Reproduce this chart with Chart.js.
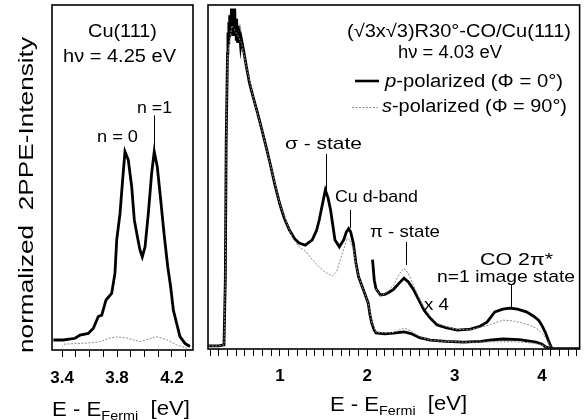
<!DOCTYPE html>
<html>
<head>
<meta charset="utf-8">
<script src="https://cdn.jsdelivr.net/npm/chart.js@4/dist/chart.umd.min.js"></script>
<style>
  body { margin: 0; background: #fff; }
  #wrap { position: relative; width: 587px; height: 420px; }
  canvas { position: absolute; top: 0; }
</style>
</head>
<body>
<div id="wrap">
  <canvas id="cuChart" width="200" height="420" style="left:0"></canvas>
  <canvas id="coChart" width="387" height="420" style="left:200px"></canvas>
</div>
<script>
// Cu(111), hv = 4.25 eV
const cuPE = [3.337, 3.41, 3.495, 3.531, 3.591, 3.628, 3.664, 3.689, 3.72, 3.761, 3.785, 3.798, 3.822, 3.841, 3.858, 3.882, 3.907, 3.926, 3.948, 3.967, 3.984, 4.004, 4.028, 4.052, 4.071, 4.093, 4.118, 4.142, 4.169, 4.19, 4.21, 4.234, 4.258, 4.295, 4.331];
const cuP = [2.9, 2.9, 3.4, 4.3, 4.8, 6.3, 9.7, 10.1, 14.5, 16.4, 22.2, 31.9, 39.6, 49.3, 57.5, 55.1, 47.3, 37.7, 32.9, 29.0, 27.0, 29.9, 39.6, 51.2, 57.5, 53.1, 43.5, 33.8, 24.2, 18.4, 11.6, 7.7, 3.9, 1.9, 1.0];
const cuSE = [3.414, 3.58, 3.677, 3.75, 3.798, 3.87, 3.967, 4.04, 4.085, 4.16, 4.234, 4.31];
const cuS = [1.7, 2.0, 2.4, 3.5, 3.8, 3.5, 2.4, 3.3, 3.9, 3.0, 1.5, 0.5];

// (sqrt3 x sqrt3)R30-CO/Cu(111), hv = 4.03 eV
const coPE = [0.18, 0.30, 0.36, 0.375, 0.385, 0.40, 0.405, 0.41, 0.415, 0.42, 0.425, 0.43, 0.435, 0.44, 0.445, 0.45, 0.455, 0.46, 0.465, 0.47, 0.475, 0.48, 0.485, 0.49, 0.495, 0.50, 0.505, 0.51, 0.515, 0.52, 0.525, 0.53, 0.54, 0.55, 0.56, 0.583, 0.617, 0.65, 0.696, 0.74, 0.786, 0.84, 0.887, 0.94, 1.0, 1.05, 1.11, 1.17, 1.22, 1.29, 1.37, 1.42, 1.45, 1.49, 1.52, 1.55, 1.58, 1.63, 1.68, 1.73, 1.76, 1.786, 1.81, 1.84, 1.87, 1.9, 1.955, 2.01, 2.03, 2.05, 2.08, 2.1, 2.2, 2.3, 2.42, 2.5, 2.6, 2.72, 2.9, 3.1, 3.3, 3.4, 3.55, 3.74, 3.93, 4.0, 4.04, 4.1, 4.43];
const coP = [0.9, 0.9, 1.2, 20, 60, 86, 92, 89, 95, 91, 97, 92, 96, 93, 99, 92, 97, 91, 98, 92, 96, 91, 99, 93, 95, 90, 96, 91, 94, 89, 93, 89, 91, 88, 90, 87, 82, 77.5, 73, 69, 64.5, 59, 54, 48, 42, 38, 34.5, 32, 30.8, 30.2, 31.7, 34.5, 37.5, 42.5, 46.2, 44, 40.4, 31.7, 29.7, 31.7, 34, 35, 34, 30.8, 25, 21, 17.2, 13.4, 10, 7.6, 5.4, 4.7, 4.4, 4.6, 5.0, 4.5, 3.3, 2.6, 2.2, 2.0, 2.2, 2.6, 2.9, 2.7, 2.0, 1.4, 0.6, 0.1, 0.1];
const coSE = [0.18, 0.30, 0.36, 0.375, 0.385, 0.40, 0.45, 0.50, 0.56, 0.617, 0.696, 0.786, 0.887, 1.0, 1.11, 1.15, 1.22, 1.29, 1.37, 1.45, 1.52, 1.6, 1.65, 1.69, 1.73, 1.77, 1.8, 1.84, 1.87, 1.9, 1.955, 2.01, 2.05, 2.1, 2.2, 2.3, 2.42, 2.5, 2.6, 2.72, 2.9, 3.1, 3.3, 3.5, 3.7, 3.9, 4.0, 4.05, 4.1, 4.43];
const coS = [0.9, 0.9, 1.2, 20, 60, 85, 94, 92, 89, 82, 73, 64.5, 54, 42, 34.5, 32, 29.7, 28.5, 26, 23.8, 22.3, 21.2, 22.5, 25.9, 29, 32.3, 31.5, 29.5, 24.5, 21, 17.2, 13.4, 7.8, 4.9, 4.7, 4.8, 6.1, 5.2, 3.6, 2.6, 2.2, 2.0, 2.0, 2.1, 2.1, 1.7, 1.2, 0.5, 0.1, 0.1];
// x 4 magnified traces
const co4E = [2.06, 2.08, 2.1, 2.15, 2.2, 2.25, 2.3, 2.36, 2.42, 2.47, 2.53, 2.59, 2.65, 2.72, 2.8, 2.9, 3.03, 3.18, 3.29, 3.37, 3.46, 3.55, 3.63, 3.72, 3.82, 3.9, 3.96, 4.0, 4.04, 4.08, 4.11];
const co4P = [26, 20, 17.5, 15.7, 15.9, 16.5, 17.3, 19, 20.6, 19.5, 17.2, 14.3, 11.3, 9, 7, 6.2, 5.5, 5.8, 6.6, 7.8, 10.8, 11.6, 11.9, 11.6, 10.8, 9.6, 8.4, 6.8, 4.7, 2, 0.3];
const co4SE = [2.1, 2.15, 2.2, 2.3, 2.36, 2.42, 2.47, 2.53, 2.6, 2.65, 2.72, 2.8, 2.9, 3.03, 3.18, 3.3, 3.4, 3.55, 3.65, 3.74, 3.85, 3.93, 4.02, 4.07, 4.11];
const co4S = [17.5, 15.5, 16, 18.5, 21.5, 23.5, 22, 18.5, 14.5, 12, 9.5, 7.5, 6.5, 5.7, 5.7, 6.3, 7.0, 8.4, 8.2, 7.8, 7, 6.1, 4.1, 2, 0.3];

const cuTicks = [3.4, 3.5, 3.6, 3.7, 3.8, 3.9, 4.0, 4.1, 4.2, 4.3];
const cuTickLabels = ['3.4', '3.8', '4.2'];
const coTicks = [];
for (let i = 2; i <= 44; i++) coTicks.push(i / 10);
const coTickLabels = ['1', '2', '3', '4'];

const FONT = "'Liberation Sans', Arial, sans-serif";

function pts(xs, ys) {
  return xs.map((x, i) => ({ x: x, y: ys[i] }));
}

function pLine(xs, ys) {
  return { data: pts(xs, ys), borderColor: '#000', borderWidth: 2.8, pointRadius: 0, tension: 0 };
}
function sLine(xs, ys) {
  return { data: pts(xs, ys), borderColor: '#8a8a8a', borderWidth: 1, borderDash: [2, 1.5], pointRadius: 0, tension: 0 };
}

// text squeezed/stretched to the width it has in the picture
function fitText(ctx, parts, x0, x1, y) {
  let w = 0;
  parts.forEach(p => { ctx.font = p.font; w += ctx.measureText(p.t).width; });
  const k = (x1 - x0) / w;
  ctx.save();
  ctx.translate(x0, y);
  ctx.scale(k, 1);
  ctx.textBaseline = 'middle';
  ctx.textAlign = 'left';
  ctx.fillStyle = '#000';
  let x = 0;
  parts.forEach(p => {
    ctx.font = p.font;
    ctx.fillText(p.t, x, p.dy || 0);
    x += ctx.measureText(p.t).width;
  });
  ctx.restore();
}
function txt(ctx, t, x0, x1, y, size) {
  fitText(ctx, [{ t: t, font: size + 'px ' + FONT }], x0, x1, y);
}
function xTitle(ctx, x0, x1, y) {
  fitText(ctx, [
    { t: 'E - E', font: '20px ' + FONT },
    { t: 'Fermi', font: '13px ' + FONT, dy: 6 },
    { t: '  [eV]', font: '20px ' + FONT, dy: -1 },
  ], x0, x1, y);
}
function leader(ctx, chart, e, y0, y1) {
  const xs = chart.scales.x, ys = chart.scales.y;
  const px = Math.round(xs.getPixelForValue(e)) + 0.5;
  ctx.save();
  ctx.strokeStyle = '#000';
  ctx.lineWidth = 1;
  ctx.beginPath();
  ctx.moveTo(px, ys.getPixelForValue(y0));
  ctx.lineTo(px, ys.getPixelForValue(y1));
  ctx.stroke();
  ctx.restore();
}
function frame(ctx, a) {
  ctx.save();
  ctx.strokeStyle = '#000';
  ctx.lineWidth = 1.6;
  ctx.strokeRect(a.left, a.top, a.right - a.left, a.bottom - a.top);
  ctx.restore();
}

function makeChart(id, datasets, xmin, xmax, ticks, labels, pad, axisH, labelPad, deco) {
  return new Chart(document.getElementById(id), {
    type: 'line',
    data: { datasets: datasets },
    options: {
      responsive: false,
      animation: false,
      devicePixelRatio: 1,
      layout: { padding: pad },
      plugins: { legend: { display: false }, tooltip: { enabled: false } },
      scales: {
        x: {
          type: 'linear', min: xmin, max: xmax,
          afterBuildTicks: s => { s.ticks = ticks.map(v => ({ value: v })); },
          afterFit: s => { s.height = axisH; },
          border: { display: false },
          grid: { drawOnChartArea: false, drawTicks: true, tickLength: 7, color: '#000', lineWidth: 1 },
          ticks: {
            autoSkip: false, maxRotation: 0, padding: labelPad, color: '#000',
            font: { family: FONT, size: 17, weight: 'bold' },
            callback: v => {
              const s = String(Math.round(v * 10) / 10);
              return labels.includes(s) ? s : '';
            },
          },
        },
        y: { display: false, min: 0, max: 100 },
      },
    },
    plugins: [{ id: 'deco', afterDraw: chart => { frame(chart.ctx, chart.chartArea); deco(chart.ctx, chart); } }],
  });
}

makeChart('cuChart', [sLine(cuSE, cuS), pLine(cuPE, cuP)], 3.327, 4.353, cuTicks, cuTickLabels,
  { left: 52, right: 7, top: 5, bottom: 0 }, 70, 11, (ctx, chart) => {
    txt(ctx, 'Cu(111)', 88, 157, 32, 18);
    txt(ctx, 'hν = 4.25 eV', 63, 176, 57, 18);
    txt(ctx, 'n = 0', 97, 138, 137, 17);
    txt(ctx, 'n =1', 137, 172, 108, 17);
    leader(ctx, chart, 4.069, 68, 58);
    xTitle(ctx, 52, 190, 410);
    ctx.save();
    ctx.translate(27, 353);
    ctx.rotate(-Math.PI / 2);
    txt(ctx, 'normalized  2PPE-Intensity', 0, 316, 0, 21);
    ctx.restore();
  });

makeChart('coChart', [sLine(coSE, coS), pLine(coPE, coP), sLine(co4SE, co4S), pLine(co4E, co4P)], 0.177, 4.43, coTicks, coTickLabels,
  { left: 4, right: 6, top: 5, bottom: 0 }, 71, 10, (ctx, chart) => {
    txt(ctx, '(√3x√3)R30°-CO/Cu(111)', 147, 371, 32, 18);
    txt(ctx, 'hν = 4.03 eV', 198, 302, 53, 18);
    fitText(ctx, [{ t: 'p', font: 'italic 18px ' + FONT }, { t: '-polarized (Φ = 0°)', font: '18px ' + FONT }], 185, 363, 82);
    fitText(ctx, [{ t: 's', font: 'italic 18px ' + FONT }, { t: '-polarized (Φ = 90°)', font: '18px ' + FONT }], 182, 367, 107);
    ctx.save();
    ctx.strokeStyle = '#000'; ctx.lineWidth = 2.6;
    ctx.beginPath(); ctx.moveTo(155, 81); ctx.lineTo(179, 81); ctx.stroke();
    ctx.strokeStyle = '#8a8a8a'; ctx.lineWidth = 1; ctx.setLineDash([2, 1.5]);
    ctx.beginPath(); ctx.moveTo(152, 107.5); ctx.lineTo(178, 107.5); ctx.stroke();
    ctx.restore();
    txt(ctx, 'σ - state', 85, 162, 144, 17);
    txt(ctx, 'Cu d-band', 135, 218, 197, 17);
    txt(ctx, 'π - state', 170, 240, 232, 17);
    txt(ctx, 'CO 2π*', 280, 353, 260, 17);
    txt(ctx, 'n=1 image state', 237, 375, 277, 17);
    txt(ctx, 'x 4', 224, 249, 305, 17);
    leader(ctx, chart, 1.53, 56.7, 46.2);
    leader(ctx, chart, 1.80, 40.4, 35.2);
    leader(ctx, chart, 2.44, 31.1, 24.4);
    leader(ctx, chart, 3.65, 18.6, 12.2);
    xTitle(ctx, 130, 267, 405);
  });
</script>
</body>
</html>
